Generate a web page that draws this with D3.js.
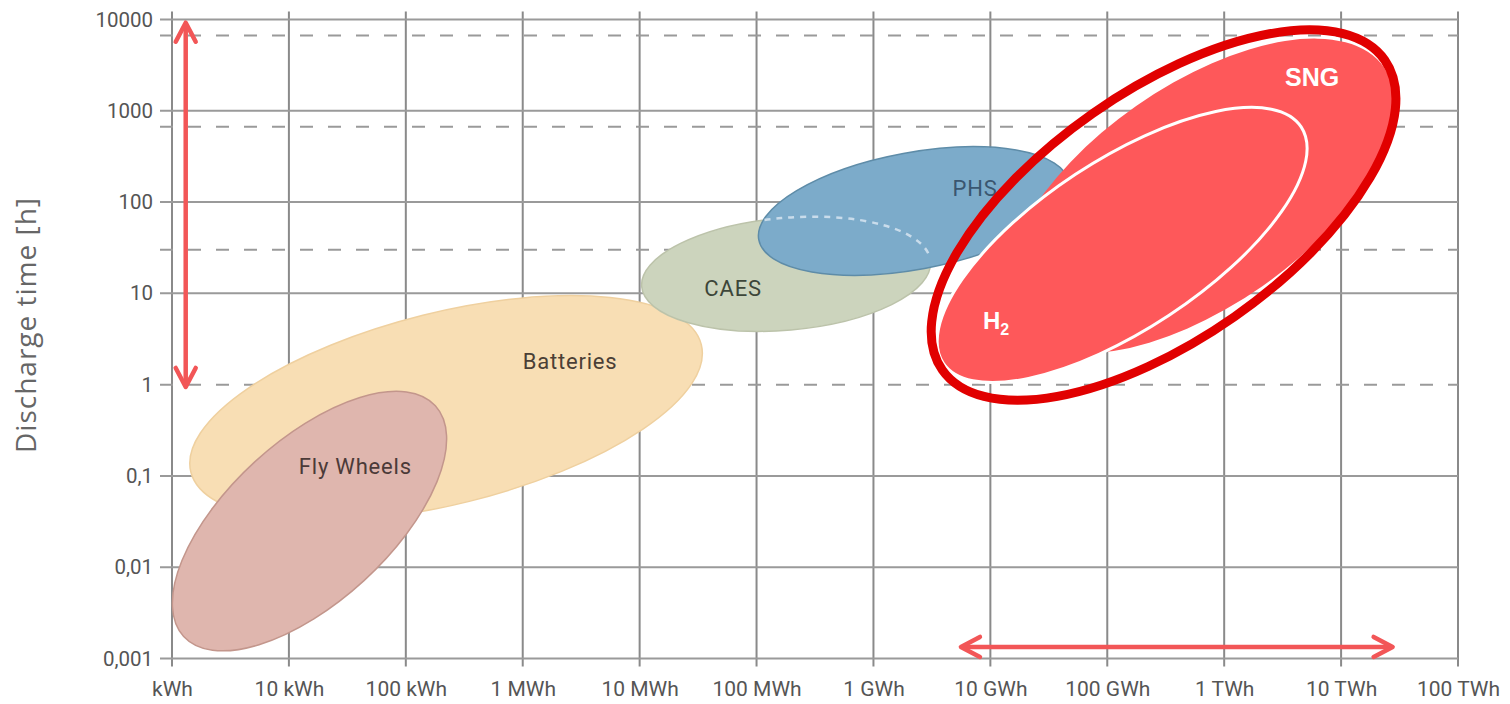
<!DOCTYPE html>
<html>
<head>
<meta charset="utf-8">
<script src="https://cdn.jsdelivr.net/npm/d3@7"></script>
<style>
  html, body { margin: 0; padding: 0; background: #fff; }
  svg { display: block; }
</style>
</head>
<body>
<svg id="chart" width="1510" height="704"></svg>
<script>
// energy ticks in kWh
var energyTicks = [1, 1e1, 1e2, 1e3, 1e4, 1e5, 1e6, 1e7, 1e8, 1e9, 1e10, 1e11];
var energyLabels = ["kWh", "10 kWh", "100 kWh", "1 MWh", "10 MWh", "100 MWh",
  "1 GWh", "10 GWh", "100 GWh", "1 TWh", "10 TWh", "100 TWh"];

// discharge time ticks in hours
var timeTicks = [0.001, 0.01, 0.1, 1, 10, 100, 1000, 10000];
var timeLabels = ["0,001", "0,01", "0,1", "1", "10", "100", "1000", "10000"];

// dashed reference lines (hours)
var dashedHours = [1, 30, 670, 6700];

// technologies: centre (kWh, h), half axes in decades, tilt in degrees
var techNames   = ["Batteries", "Fly Wheels", "CAES", "PHS"];
var techEnergy  = [221, 15, 1.79e5, 2.22e6];
var techHours   = [0.55, 0.032, 16.3, 80];
var techMajor   = [2.25, 1.46, 1.24, 1.35];
var techMinor   = [0.82, 0.69, 0.48, 0.50];
var techAngle   = [14, 42.5, 5, 10.5];
var techFill    = ["#f8deb4", "#dfb6ae", "#ccd4bd", "#7cabca"];
var techStroke  = ["#efd09f", "#c3968c", "#bcc3aa", "#5e8ca8"];
var techLabelE  = [2540, 37, 6.3e4, 7.4e6];
var techLabelH  = [1.82, 0.129, 11.5, 143];
var techInk     = ["#4b3f36", "#4b3a38", "#3d4639", "#3a5670"];

// gas storage: SNG, H2 and the red frame round both
var gasNames  = ["SNG", "H2", "frame"];
var gasEnergy = [6.12e8, 1.34e8, 3.03e8];
var gasHours  = [116.4, 33.9, 72];
var gasMajor  = [1.925, 1.834, 2.31];
var gasMinor  = [0.941, 0.724, 1.06];
var gasAngle  = [35, 33.4, 35];
var gasLabelE = [5.65e9, 1.12e7];
var gasLabelH = [2345, 5.0];

// red arrows
var vArrowEnergy = 1.31, vArrowHours = [9230, 0.944];
var hArrowHours = 0.00134, hArrowEnergy = [5.6e6, 2.76e10];

(function(){
  var svg, x, y, decadePx, plot;

  function init(){
    initVariables();
    drawGrid();
    drawAxes();
    drawTechs();
    drawGas();
    drawArrows();
  }

  function initVariables(){
    svg = d3.select("#chart");
    x = d3.scaleLog().domain([1, 1e11]).range([172, 1458]);
    y = d3.scaleLog().domain([0.001, 10000]).range([658.5, 19.5]);
    decadePx = x(10) - x(1);
    plot = svg.append("g");
  }

  function drawGrid(){
    var grid = plot.append("g").attr("class", "grid");
    grid.selectAll("line.v")
      .data(energyTicks)
      .enter().append("line")
      .attr("class", "v")
      .attr("x1", function(d){ return x(d); })
      .attr("x2", function(d){ return x(d); })
      .attr("y1", y(10000) - 8)
      .attr("y2", y(0.001) + 8)
      .attr("stroke", "#8a8a8a")
      .attr("stroke-width", 2);

    grid.selectAll("line.h")
      .data(timeTicks.filter(function(d){ return d !== 1; }))
      .enter().append("line")
      .attr("class", "h")
      .attr("x1", x(1) - 12)
      .attr("x2", x(1e11))
      .attr("y1", function(d){ return y(d); })
      .attr("y2", function(d){ return y(d); })
      .attr("stroke", "#9a9a9a")
      .attr("stroke-width", 2);

    grid.selectAll("line.d")
      .data(dashedHours)
      .enter().append("line")
      .attr("class", "d")
      .attr("x1", x(1) - 12)
      .attr("x2", x(1e11))
      .attr("y1", function(d){ return y(d); })
      .attr("y2", function(d){ return y(d); })
      .attr("stroke", "#9a9a9a")
      .attr("stroke-width", 2)
      .attr("stroke-dasharray", "13,15");
  }

  function drawAxes(){
    var xAxis = d3.axisBottom(x)
      .tickValues(energyTicks)
      .tickSize(0)
      .tickPadding(0)
      .tickFormat(function(d, i){ return energyLabels[i]; });

    var yAxis = d3.axisLeft(y)
      .tickValues(timeTicks)
      .tickSize(0)
      .tickPadding(0)
      .tickFormat(function(d, i){ return timeLabels[i]; });

    var gx = svg.append("g")
      .attr("class", "x axis")
      .attr("transform", "translate(0," + 677 + ")")
      .call(xAxis);
    var gy = svg.append("g")
      .attr("class", "y axis")
      .attr("transform", "translate(" + 153 + ",0)")
      .call(yAxis);

    [gx, gy].forEach(function(g){
      g.select(".domain").remove();
      g.selectAll("text")
        .attr("font-family", "Roboto, 'Noto Sans', sans-serif")
        .attr("fill", "#555");
    });
    gx.selectAll("text").attr("font-size", 21).attr("dy", "0.9em");
    gy.selectAll("text").attr("font-size", 20.5);

    svg.append("text")
      .attr("transform", "translate(36," + 325 + ") rotate(-90)")
      .attr("text-anchor", "middle")
      .attr("font-family", "'Open Sans', 'Noto Sans', sans-serif")
      .attr("font-size", 28)
      .attr("letter-spacing", 1)
      .attr("fill", "#666")
      .text("Discharge time [h]");
  }

  function ellipse(sel, e, h, major, minor, angle){
    var cx = x(e), cy = y(h);
    return sel.append("ellipse")
      .attr("cx", cx)
      .attr("cy", cy)
      .attr("rx", major * decadePx)
      .attr("ry", minor * decadePx)
      .attr("transform", "rotate(" + (-angle) + "," + cx + "," + cy + ")");
  }

  function drawTechs(){
    var g = plot.append("g").attr("class", "techs");
    techNames.forEach(function(name, i){
      ellipse(g, techEnergy[i], techHours[i], techMajor[i], techMinor[i], techAngle[i])
        .attr("fill", techFill[i])
        .attr("stroke", techStroke[i])
        .attr("stroke-width", 1.5);
    });

    // hidden CAES edge behind PHS
    var clip = svg.append("defs").append("clipPath").attr("id", "phsClip");
    var p = techNames.indexOf("PHS"), c = techNames.indexOf("CAES");
    ellipse(clip, techEnergy[p], techHours[p], techMajor[p], techMinor[p], techAngle[p]);
    ellipse(g, techEnergy[c], techHours[c], techMajor[c], techMinor[c], techAngle[c])
      .attr("fill", "none")
      .attr("stroke", "#c9dceb")
      .attr("stroke-width", 2.5)
      .attr("stroke-dasharray", "6,6")
      .attr("clip-path", "url(#phsClip)");

    g.selectAll("text")
      .data(techNames)
      .enter().append("text")
      .attr("x", function(d, i){ return x(techLabelE[i]); })
      .attr("y", function(d, i){ return y(techLabelH[i]); })
      .attr("text-anchor", "middle")
      .attr("dy", "0.35em")
      .attr("font-family", "Roboto, sans-serif")
      .attr("font-size", 22)
      .attr("letter-spacing", 0.8)
      .attr("fill", function(d, i){ return techInk[i]; })
      .text(function(d){ return d; });
  }

  function drawGas(){
    var g = plot.append("g").attr("class", "gas");
    ellipse(g, gasEnergy[0], gasHours[0], gasMajor[0], gasMinor[0], gasAngle[0])
      .attr("fill", "#fe585a");
    ellipse(g, gasEnergy[1], gasHours[1], gasMajor[1], gasMinor[1], gasAngle[1])
      .attr("fill", "#fe585a")
      .attr("stroke", "#fff")
      .attr("stroke-width", 3);
    ellipse(g, gasEnergy[2], gasHours[2], gasMajor[2], gasMinor[2], gasAngle[2])
      .attr("fill", "none")
      .attr("stroke", "#e10000")
      .attr("stroke-width", 9);

    g.append("text")
      .attr("x", x(gasLabelE[0]))
      .attr("y", y(gasLabelH[0]))
      .attr("dy", "0.35em")
      .attr("text-anchor", "middle")
      .attr("font-family", "'Liberation Sans', Arial, sans-serif")
      .attr("font-weight", "bold")
      .attr("font-size", 25)
      .attr("fill", "#fff")
      .text("SNG");

    var h2 = g.append("text")
      .attr("x", x(gasLabelE[1]))
      .attr("y", y(gasLabelH[1]))
      .attr("dy", "0.35em")
      .attr("text-anchor", "middle")
      .attr("font-family", "'Liberation Sans', Arial, sans-serif")
      .attr("font-weight", "bold")
      .attr("font-size", 24)
      .attr("fill", "#fff");
    h2.append("tspan").text("H");
    h2.append("tspan").attr("font-size", 16).attr("dy", 6).text("2");
  }

  function drawArrows(){
    var g = plot.append("g").attr("class", "arrows")
      .attr("stroke", "#f25657")
      .attr("stroke-width", 4.5)
      .attr("stroke-linecap", "round")
      .attr("stroke-linejoin", "round")
      .attr("fill", "none");
    var line = d3.line();

    var vx = x(vArrowEnergy), vy0 = y(vArrowHours[0]), vy1 = y(vArrowHours[1]);
    g.append("path").attr("d", line([[vx, vy0 + 2], [vx, vy1 - 2]]));
    g.append("path").attr("d", line([[vx - 10, vy0 + 19], [vx, vy0], [vx + 10, vy0 + 19]]));
    g.append("path").attr("d", line([[vx - 10, vy1 - 19], [vx, vy1], [vx + 10, vy1 - 19]]));

    var hy = y(hArrowHours), hx0 = x(hArrowEnergy[0]), hx1 = x(hArrowEnergy[1]);
    g.append("path").attr("d", line([[hx0 + 2, hy], [hx1 - 2, hy]]));
    g.append("path").attr("d", line([[hx0 + 19, hy - 10], [hx0, hy], [hx0 + 19, hy + 10]]));
    g.append("path").attr("d", line([[hx1 - 19, hy - 10], [hx1, hy], [hx1 - 19, hy + 10]]));
  }

  init();
})();
</script>
</body>
</html>
